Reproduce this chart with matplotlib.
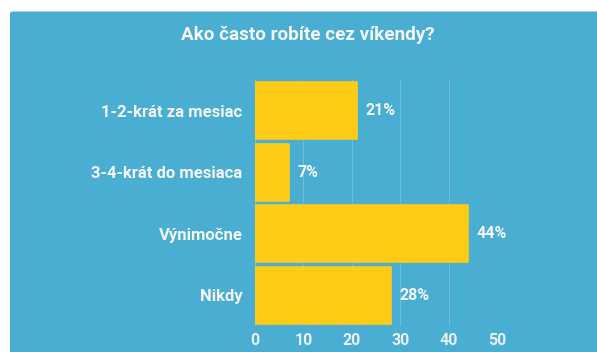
import matplotlib.pyplot as plt
from matplotlib.patches import FancyBboxPatch

# data
categories = ['1-2-krát za mesiac', '3-4-krát do mesiaca', 'Výnimočne', 'Nikdy']
values = [21, 7, 44, 28]
x_ticks = [0, 10, 20, 30, 40, 50]
title = 'Ako často robíte cez víkendy?'

bg_blue = '#4aadd2'
bar_yellow = '#fecc17'
text_white = '#f4f8fa'

plt.rcParams['font.family'] = ['Roboto', 'DejaVu Sans']

W, H = 597, 352
fig = plt.figure(figsize=(W / 100, H / 100), dpi=100)
fig.patch.set_facecolor('white')

# blue panel behind everything
panel = FancyBboxPatch((10 / W, -0.05), 1.05, 1 - 11.5 / H + 0.05,
                       boxstyle='round,pad=0,rounding_size=0.006',
                       transform=fig.transFigure, facecolor=bg_blue,
                       edgecolor='none', zorder=-5)
fig.patches.append(panel)

fig.text(308 / W, 1 - 35 / H, title, ha='center', va='center',
         fontsize=13.6, fontweight='bold', color=text_white)

ax = fig.add_axes([255 / W, 1 - 326 / H, (497 - 255) / W, (326 - 80) / H])
ax.set_facecolor('none')

ypos = list(range(len(categories)))
bars = ax.barh(ypos, values, height=0.92, color=bar_yellow,
               edgecolor=bar_yellow, linewidth=1.2, zorder=3)
for b in bars:
    b.set_joinstyle('round')

for y, v in zip(ypos, values):
    ax.annotate(f'{v}%', (v, y), xytext=(6.5, 0), textcoords='offset points',
                ha='left', va='center', fontsize=11.5, fontweight='bold',
                color=text_white, zorder=4)

ax.set_xlim(0, 50)
ax.set_ylim(len(categories) - 0.5, -0.5)
ax.set_xticks(x_ticks)
ax.set_yticks(ypos)
ax.set_yticklabels(categories)
ax.grid(axis='x', color='white', alpha=0.2, linewidth=0.8, zorder=1)
ax.tick_params(axis='both', length=0, colors=text_white, labelsize=11.5)
ax.tick_params(axis='y', labelsize=12, pad=9)
ax.tick_params(axis='x', pad=5)
for lab in ax.get_xticklabels() + ax.get_yticklabels():
    lab.set_fontweight('bold')
for lab in ax.get_xticklabels():
    lab.set_color('#e6f1f6')
for s in ax.spines.values():
    s.set_visible(False)

fig.savefig('out.png', dpi=100, facecolor='white')
